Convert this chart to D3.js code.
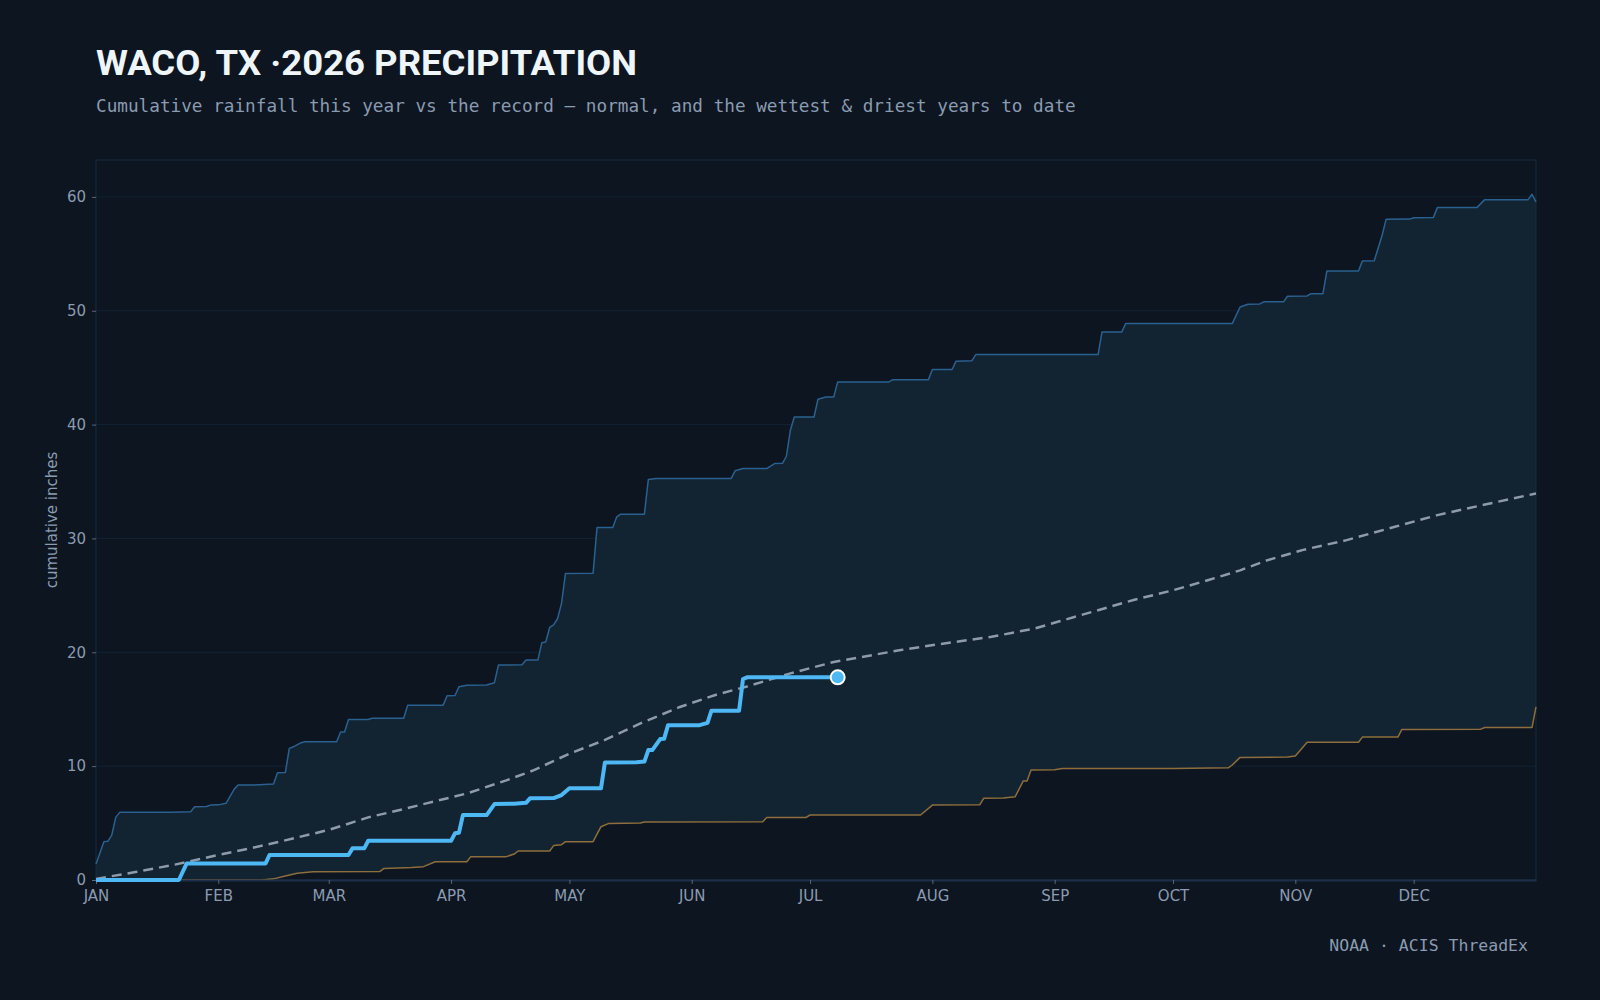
<!DOCTYPE html>
<html>
<head>
<meta charset="utf-8">
<script src="https://cdn.jsdelivr.net/npm/d3@7"></script>
<style>
  html, body { margin: 0; padding: 0; background: #0c1520; }
  svg { display: block; }
</style>
</head>
<body>
<svg id="chart" width="1600" height="1000"></svg>
<script>
// ---------------- DATA (day offset from Jan 1, cumulative inches) ----------------
const monthLabels = ["JAN","FEB","MAR","APR","MAY","JUN","JUL","AUG","SEP","OCT","NOV","DEC"];
const yTicks = [0, 10, 20, 30, 40, 50, 60];

const wettest = [[0,1.4],[2,3.35],[3,3.4],[4,3.95],[5,5.5],[6,5.94],[19,5.95],[24,6.0],[25,6.44],[28,6.45],[29,6.58],[31,6.6],[33,6.75],[35,7.96],[36,8.34],[40,8.35],[45,8.43],[46,9.42],[48,9.45],[49,11.56],[50,11.7],[52,12.06],[53,12.14],[61,12.14],[62,13.0],[63,13.0],[64,14.1],[69,14.1],[70,14.2],[78,14.2],[79,15.36],[88,15.36],[89,16.18],[91,16.2],[92,16.97],[94,17.1],[99,17.12],[101,17.33],[102,18.88],[108,18.9],[109,19.32],[112,19.32],[113,20.83],[114,20.9],[115,22.18],[116,22.4],[117,22.97],[118,24.3],[119,26.93],[126,26.95],[127,30.97],[131,30.97],[132,31.9],[133,32.13],[139,32.13],[140,35.18],[142,35.27],[161,35.27],[162,35.94],[164,36.14],[170,36.14],[172,36.58],[174,36.6],[175,37.22],[176,39.5],[177,40.67],[182,40.67],[183,42.23],[185,42.43],[187,42.43],[188,43.75],[201,43.75],[202,43.95],[211,43.95],[212,44.84],[217,44.84],[218,45.57],[222,45.6],[223,46.15],[254,46.15],[255,48.14],[260,48.14],[261,48.87],[288,48.87],[290,50.33],[292,50.57],[295,50.6],[296,50.78],[301,50.78],[302,51.27],[307,51.3],[308,51.5],[311,51.5],[312,53.5],[320,53.5],[321,54.38],[324,54.4],[326,56.63],[327,58.03],[333,58.05],[334,58.17],[339,58.2],[340,59.06],[350,59.06],[352,59.76],[363,59.76],[364,60.23],[365,59.56]];

const driest = [[0,0],[42,0],[45,0.1],[48,0.35],[51,0.6],[55,0.73],[72,0.75],[73,1.02],[80,1.1],[83,1.17],[86,1.6],[94,1.6],[95,2.05],[104,2.05],[106,2.28],[107,2.55],[115,2.55],[116,3.02],[118,3.1],[119,3.37],[126,3.37],[128,4.68],[130,4.97],[138,5.0],[139,5.09],[169,5.12],[170,5.5],[180,5.5],[181,5.71],[209,5.71],[212,6.58],[224,6.6],[225,7.17],[230,7.2],[233,7.32],[235,8.69],[236,8.7],[237,9.66],[243,9.68],[245,9.8],[273,9.8],[287,9.85],[288,10.1],[290,10.77],[302,10.8],[304,10.9],[307,12.09],[320,12.1],[321,12.55],[330,12.55],[331,13.23],[351,13.25],[352,13.4],[364,13.4],[365,15.2]];

const normal = [[0,0.1],[10,0.7],[20,1.35],[31,2.2],[40,2.85],[47,3.4],[59,4.4],[69,5.5],[77,6.15],[84,6.75],[94,7.6],[104,8.75],[111,9.65],[120,11.1],[129,12.3],[138,13.75],[148,15.2],[157,16.25],[165,17.0],[176,18.15],[187,19.15],[204,20.2],[215,20.78],[227,21.36],[238,22.1],[244,22.7],[254,23.7],[263,24.6],[273,25.45],[282,26.35],[290,27.2],[297,28.1],[306,29.0],[317,29.85],[329,31.0],[340,32.05],[353,33.05],[365,33.95]];

const thisYear = [[0,0],[21,0],[23,1.46],[43,1.46],[44,2.2],[64,2.2],[65,2.78],[68,2.78],[69,3.45],[90,3.45],[91,4.1],[92,4.15],[93,5.7],[99,5.7],[101,6.67],[106,6.7],[109,6.78],[110,7.17],[116,7.2],[118,7.46],[120,8.05],[128,8.05],[129,10.33],[137,10.35],[139,10.4],[140,11.41],[141,11.41],[143,12.38],[144,12.4],[145,13.6],[153,13.6],[155,13.8],[156,14.87],[163,14.87],[164,17.65],[165,17.8],[188,17.8]];

// ---------------- LAYOUT ----------------
const W = 1600, H = 1000;
const m = { top: 160, right: 64, bottom: 120, left: 96 };
const start = new Date(Date.UTC(2026, 0, 1));
const end = new Date(Date.UTC(2027, 0, 1));
const toDate = d => d3.utcDay.offset(start, d);

const x = d3.scaleUtc().domain([start, end]).range([m.left, W - m.right]);
const y = d3.scaleLinear().domain([0, d3.max(wettest, d => d[1]) * 1.05]).range([H - m.bottom, m.top]);

const svg = d3.select("#chart");
svg.append("rect").attr("width", W).attr("height", H).attr("fill", "#0c1520");

// gridlines
svg.append("g").selectAll("line").data(yTicks.filter(t => t > 0)).join("line")
  .attr("x1", m.left).attr("x2", W - m.right)
  .attr("y1", d => y(d)).attr("y2", d => y(d))
  .attr("stroke", "#132333").attr("stroke-width", 1);

// band between driest and wettest
const pt = d3.line().x(d => x(toDate(d[0]))).y(d => y(d[1]));
const bandPts = wettest.concat(driest.slice().reverse());
svg.append("path").attr("d", pt(bandPts) + "Z").attr("fill", "#122332");

// frame
svg.append("rect")
  .attr("x", m.left).attr("y", m.top)
  .attr("width", W - m.left - m.right).attr("height", H - m.top - m.bottom)
  .attr("fill", "none").attr("stroke", "#1a2d40").attr("stroke-width", 1);

// lines
svg.append("path").attr("d", pt(wettest)).attr("fill", "none")
  .attr("stroke", "#2b6190").attr("stroke-width", 1.5).attr("stroke-linejoin", "round");
svg.append("path").attr("d", pt(driest)).attr("fill", "none")
  .attr("stroke", "#8e6e3c").attr("stroke-width", 1.5).attr("stroke-linejoin", "round");
svg.append("path").attr("d", pt(normal)).attr("fill", "none")
  .attr("stroke", "#8e9bab").attr("stroke-width", 2.5).attr("stroke-dasharray", "10,6");

// axes
const monthStarts = monthLabels.map((_, i) => new Date(Date.UTC(2026, i, 1)));
const xAxis = d3.axisBottom(x).tickValues(monthStarts).tickFormat((d, i) => monthLabels[i])
  .tickSize(4).tickPadding(6).tickSizeOuter(0);
const gx = svg.append("g").attr("transform", `translate(0,${H - m.bottom})`).call(xAxis);
gx.select(".domain").attr("stroke", "#1c3148").attr("stroke-width", 2);
gx.selectAll(".tick line").attr("stroke", "#55677c");
gx.selectAll(".tick text").attr("fill", "#8b9bb0").attr("font-family", "DejaVu Sans").attr("font-size", 15);

const yAxis = d3.axisLeft(y).tickValues(yTicks).tickSize(4).tickPadding(6).tickSizeOuter(0);
const gy = svg.append("g").attr("transform", `translate(${m.left},0)`).call(yAxis);
gy.select(".domain").remove();
gy.selectAll(".tick line").attr("stroke", "#55677c");
gy.selectAll(".tick text").attr("fill", "#8b9bb0").attr("font-family", "DejaVu Sans").attr("font-size", 15);

// this year
svg.append("path").attr("d", pt(thisYear)).attr("fill", "none")
  .attr("stroke", "#4db8f4").attr("stroke-width", 4).attr("stroke-linejoin", "round");
const last = thisYear[thisYear.length - 1];
svg.append("circle").attr("cx", x(toDate(last[0]))).attr("cy", y(last[1])).attr("r", 7)
  .attr("fill", "#4db8f4").attr("stroke", "#ffffff").attr("stroke-width", 2);

// y label
svg.append("text")
  .attr("transform", `translate(57,${(m.top + H - m.bottom) / 2}) rotate(-90)`)
  .attr("text-anchor", "middle")
  .attr("fill", "#8b9bb0").attr("font-family", "DejaVu Sans").attr("font-size", 15)
  .text("cumulative inches");

// title
const title = svg.append("text").attr("x", 96).attr("y", 75)
  .attr("fill", "#eef5fb").attr("font-family", "Roboto").attr("font-weight", 700)
  .attr("font-size", 35)
  .text("WACO, TX ·2026 PRECIPITATION");
const tw = title.node().getComputedTextLength();
if (Math.abs(tw - 541) > 12) title.attr("textLength", 541).attr("lengthAdjust", "spacingAndGlyphs");

svg.append("text").attr("x", 96).attr("y", 112)
  .attr("fill", "#8b9bb0").attr("font-family", "DejaVu Sans Mono").attr("font-size", 17.7)
  .text("Cumulative rainfall this year vs the record — normal, and the wettest & driest years to date");

svg.append("text").attr("x", 1528).attr("y", 951).attr("text-anchor", "end")
  .attr("fill", "#8b9bb0").attr("font-family", "DejaVu Sans Mono").attr("font-size", 16.5)
  .text("NOAA · ACIS ThreadEx");
</script>
</body>
</html>
